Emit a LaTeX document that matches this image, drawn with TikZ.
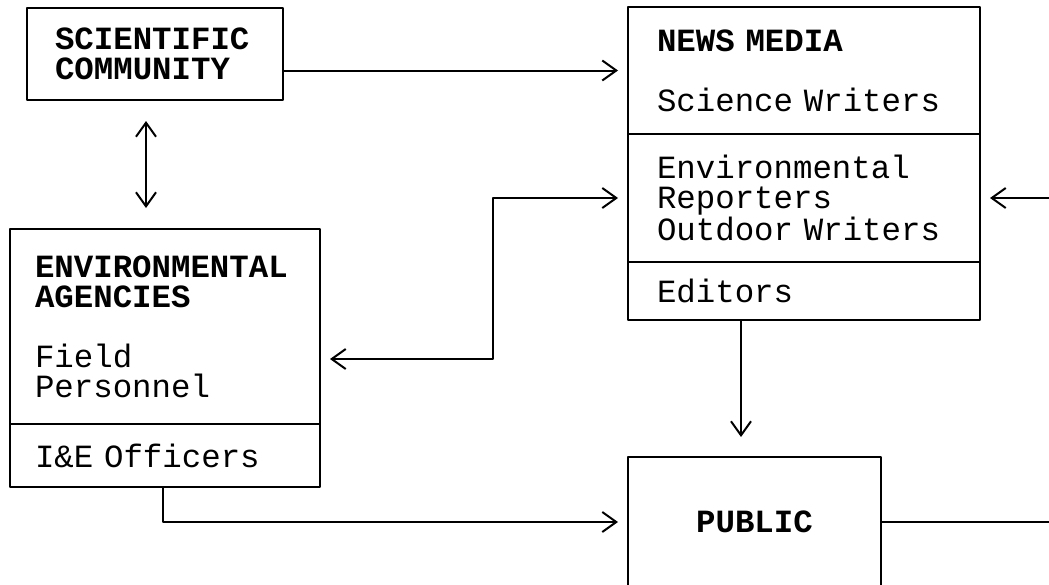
\documentclass[tikz,border=0pt]{standalone}
\usepackage{fontspec}
\setmonofont{Liberation Mono}
\usetikzlibrary{arrows.meta}

\begin{document}
\begin{tikzpicture}[x=0.5pt, y=0.5pt, line cap=round, line join=round,
        >={Straight Barb[length=7pt, width=10pt, line width=1pt]},
        box/.style={draw, line width=1pt, outer sep=0pt, anchor=north west,
            align=left, inner ysep=0pt,
            font=\ttfamily\fontsize{16.2}{15}\selectfont},
        link/.style={->, line width=1pt, shorten >=5pt}]
    % Page frame
    \useasboundingbox (0,0) rectangle (1049,-584);
    \clip (0,0) rectangle (1049,-584);

    % Boxes
    \node[box, text width=100pt, inner xsep=14pt, minimum height=46pt] (sci) at (27,-8)
        {\textbf{SCIENTIFIC}\\\textbf{COMMUNITY}};
    \node[box, text width=147pt, inner xsep=14.5pt, minimum height=63.5pt] (news1) at (628,-7)
        {\textbf{NEWS MEDIA}\\[15pt]Science Writers};
    \node[box, text width=147pt, inner xsep=14.5pt, minimum height=64pt] (news2) at (news1.south west)
        {Environmental\\Reporters\\Outdoor Writers};
    \node[box, text width=147pt, inner xsep=14.5pt, minimum height=29pt] (news3) at (news2.south west)
        {Editors};
    \node[box, text width=130pt, inner xsep=12.5pt, minimum height=97.5pt] (ea1) at (10,-229)
        {\textbf{ENVIRONMENTAL}\\\textbf{AGENCIES}\\[15pt]Field\\Personnel};
    \node[box, text width=130pt, inner xsep=12.5pt, minimum height=31.5pt] (ea2) at (ea1.south west)
        {I\&E Officers};
    \node[box, align=center, text width=106.5pt, inner xsep=10pt, minimum height=65pt] (pub) at (628,-457)
        {\textbf{PUBLIC}};

    % Free ends and bends
    \coordinate (jog) at (493,-359);
    \coordinate (feedin) at (news2.east -| 1049,0);
    \coordinate (feedout) at (pub.east -| 1049,0);

    % Connectors
    \draw[link] (sci.east |- news1.west) -- (news1.west);
    \draw[<->, line width=1pt, shorten <=10.5pt, shorten >=10.5pt]
        (sci.south -| 146,0) -- (ea1.north -| 146,0);
    \draw[<->, line width=1pt, shorten <=5pt, shorten >=5pt]
        (news2.west) -| (jog) -- (ea1.east |- jog);
    \draw[link] (feedin) -- (news2.east);
    \draw[link, shorten >=10pt] (news3.south -| 741,0) -- (pub.north -| 741,0);
    \draw[link] (ea2.south -| 163,0) |- (pub.west);
    \draw[line width=1pt] (pub.east) -- (feedout);
\end{tikzpicture}
\end{document}
